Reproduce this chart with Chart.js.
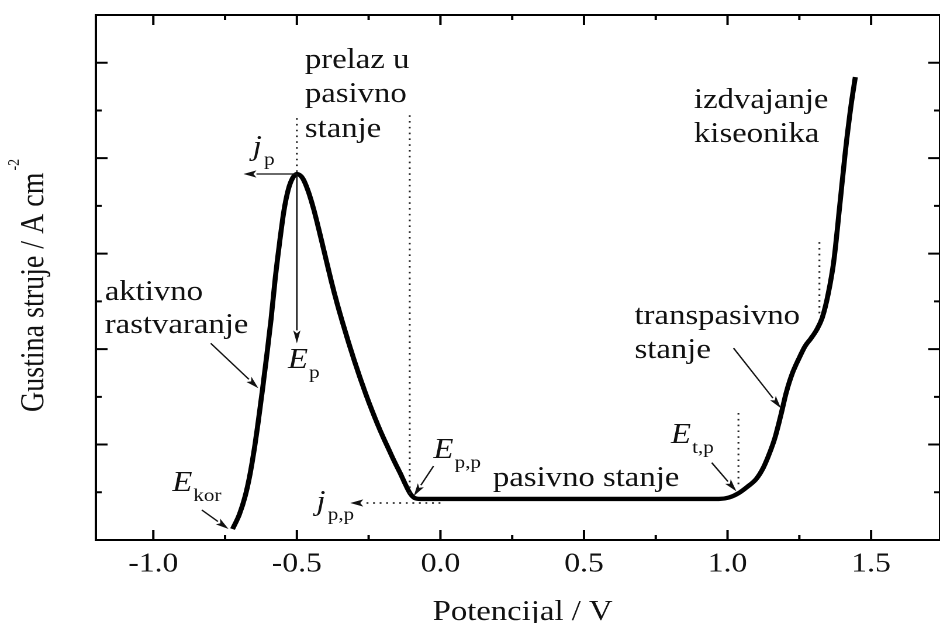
<!DOCTYPE html>
<html>
<head>
<meta charset="utf-8">
<script src="https://cdn.jsdelivr.net/npm/chart.js@4/dist/chart.umd.min.js"></script>
<style>
html,body{margin:0;padding:0;background:#fff;overflow:hidden;width:940px;height:623px;}
#wrap{width:804px;height:623px;transform:scaleX(1.169154);transform-origin:0 0;}
canvas{display:block;}
</style>
</head>
<body>
<div id="wrap"><canvas id="c" width="804" height="623"></canvas></div>
<script>
// ---------- data ----------
const potential = [-0.724,-0.700,-0.680,-0.665,-0.650,-0.635,-0.620,-0.605,-0.590,-0.575,-0.560,-0.545,-0.530,-0.515,-0.500,
  -0.480,-0.460,-0.440,-0.420,-0.400,-0.380,-0.360,-0.340,-0.320,-0.300,-0.280,-0.260,-0.240,-0.220,-0.200,-0.180,-0.160,-0.140,-0.120,-0.105,-0.090,-0.070,
  0.500,0.970,1.005,1.038,1.070,1.100,1.125,1.145,1.165,1.185,1.205,1.225,1.250,1.270,1.290,1.310,1.330,1.350,1.370,1.390,1.410,1.430,1.445];
const current = [0.115,0.270,0.460,0.660,0.920,1.230,1.570,1.930,2.310,2.750,3.120,3.450,3.670,3.790,3.834,
  3.790,3.650,3.450,3.210,2.960,2.710,2.480,2.270,2.070,1.880,1.700,1.530,1.370,1.220,1.080,0.950,0.820,0.700,0.570,0.485,0.440,0.430,
  0.430,0.430,0.445,0.490,0.560,0.640,0.760,0.900,1.070,1.300,1.550,1.740,1.910,2.030,2.110,2.200,2.330,2.570,2.920,3.480,4.060,4.550,4.850];

const xTickValues = [-1, -0.5, 0, 0.5, 1, 1.5];
const xTickLabels = ['-1.0', '-0.5', '0.0', '0.5', '1.0', '1.5'];
const xMinorValues = [-0.75, -0.25, 0.25, 0.75, 1.25];
const yMajorValues = [1, 2, 3, 4, 5];
const yMinorValues = [0.5, 1.5, 2.5, 3.5, 4.5];
const xTitle = 'Potencijal / V';
const yTitle = 'Gustina struje / A cm';
const yTitleSup = '-2';

// annotation texts (positions in data units: V, j)
const labelTexts = ['prelaz u', 'pasivno', 'stanje', 'aktivno', 'rastvaranje', 'pasivno stanje', 'transpasivno', 'stanje', 'izdvajanje', 'kiseonika'];
const labelV = [-0.472, -0.472, -0.472, -1.169, -1.169, 0.183, 0.676, 0.676, 0.883, 0.883];
const labelJ = [4.945, 4.589, 4.222, 2.514, 2.169, 0.566, 2.263, 1.907, 4.526, 4.170];

const symMain = ['j', 'E', 'E', 'E', 'j', 'E'];
const symSub = ['p', 'p', 'kor', 'p,p', 'p,p', 't,p'];
const symV = [-0.654, -0.531, -0.934, -0.024, -0.432, 0.803];
const symJ = [4.034, 1.802, 0.513, 0.859, 0.314, 1.016];

// arrows: [fromV, fromJ, toV, toJ, dotted]
const arrowDefs = [
  [-0.500, 3.834, -0.686, 3.834, 0],
  [-0.500, 3.834, -0.500, 2.060, 0],
  [-0.831, 0.314, -0.738, 0.115, 0],
  [-0.800, 2.060, -0.634, 1.590, 0],
  [-0.024, 0.775, -0.093, 0.460, 0],
  [0.945, 0.810, 1.031, 0.510, 0],
  [1.021, 2.010, 1.186, 1.380, 0],
  [0.000, 0.388, -0.314, 0.388, 1]
];
// dotted vertical guides: [V, jTop, jBottom]
const guideDefs = [
  [-0.500, 4.420, 3.834],
  [-0.107, 4.450, 0.440],
  [1.038, 1.330, 0.555],
  [1.320, 3.120, 2.330]
];

// ---------- drawing ----------
const S = 940 / 804;            // horizontal stretch of the reference figure
const FONT = '"Liberation Serif", "Times New Roman", serif';
const INK = '#111';

const decorPlugin = {
  id: 'decor',
  afterDatasetsDraw(chart) {
    const {ctx, chartArea: a, scales: {x, y}} = chart;
    const X = v => x.getPixelForValue(v);
    const Y = v => y.getPixelForValue(v);
    ctx.save();
    ctx.setLineDash([]);
    ctx.strokeStyle = '#000';
    ctx.fillStyle = '#000';

    // frame
    ctx.lineWidth = 2;
    ctx.strokeRect(a.left, a.top, a.right - a.left, a.bottom - a.top);

    // ticks (inward, mirrored)
    ctx.lineWidth = 2;
    ctx.beginPath();
    const vt = (v, len) => {
      const px = X(v);
      ctx.moveTo(px, a.bottom); ctx.lineTo(px, a.bottom - len);
      ctx.moveTo(px, a.top); ctx.lineTo(px, a.top + len);
    };
    xTickValues.forEach(v => vt(v, 10));
    xMinorValues.forEach(v => vt(v, 5));
    const ht = (v, len) => {
      const py = Y(v);
      ctx.moveTo(a.left, py); ctx.lineTo(a.left + len, py);
      ctx.moveTo(a.right, py); ctx.lineTo(a.right - len, py);
    };
    yMajorValues.forEach(v => ht(v, 10));
    yMinorValues.forEach(v => ht(v, 5));
    ctx.stroke();

    // dotted guides
    ctx.strokeStyle = '#222';
    ctx.lineWidth = 1.6;
    ctx.setLineDash([1.6, 4.2]);
    guideDefs.forEach(g => {
      ctx.beginPath();
      ctx.moveTo(X(g[0]), Y(g[1]));
      ctx.lineTo(X(g[0]), Y(g[2]));
      ctx.stroke();
    });
    ctx.setLineDash([]);

    // arrows
    ctx.strokeStyle = '#111';
    ctx.fillStyle = '#111';
    arrowDefs.forEach(d => {
      const x0 = X(d[0]), y0 = Y(d[1]), x1 = X(d[2]), y1 = Y(d[3]);
      const ang = Math.atan2(y1 - y0, (x1 - x0) * S);
      const L = 13, W = 3.6;
      const bx = x1 * S - L * Math.cos(ang), by = y1 - L * Math.sin(ang);
      const nx = -Math.sin(ang) * W, ny = Math.cos(ang) * W;
      ctx.lineWidth = 1.3;
      if (d[4]) { ctx.setLineDash([1.6, 4]); ctx.lineWidth = 1.5; }
      ctx.beginPath();
      ctx.moveTo(x0, y0);
      ctx.lineTo(bx / S, by);
      ctx.stroke();
      ctx.setLineDash([]);
      ctx.beginPath();
      ctx.moveTo(x1, y1);
      ctx.lineTo((bx + nx) / S, by + ny);
      ctx.lineTo((x1 * S - (L - 3) * Math.cos(ang)) / S, y1 - (L - 3) * Math.sin(ang));
      ctx.lineTo((bx - nx) / S, by - ny);
      ctx.closePath();
      ctx.fill();
    });

    // texts
    ctx.fillStyle = INK;
    ctx.textAlign = 'left';
    ctx.textBaseline = 'alphabetic';
    ctx.font = '28px ' + FONT;
    labelTexts.forEach((t, i) => ctx.fillText(t, X(labelV[i]), Y(labelJ[i])));

    symMain.forEach((m, i) => {
      const px = X(symV[i]), py = Y(symJ[i]);
      ctx.font = 'italic 28px ' + FONT;
      ctx.fillText(m, px, py);
      const w = ctx.measureText(m).width + (m === 'j' ? 2 : 1);
      ctx.font = '18px ' + FONT;
      ctx.fillText(symSub[i], px + w, py + 10);
    });

    // axis titles
    ctx.font = '28px ' + FONT;
    ctx.textAlign = 'center';
    ctx.fillText(xTitle, (a.left + 365), 620);

    ctx.save();
    ctx.translate(36.8, 412);
    ctx.rotate(-Math.PI / 2);
    ctx.textAlign = 'left';
    ctx.font = '28px ' + FONT;
    ctx.fillText(yTitle, 0, 0);
    const tw = ctx.measureText(yTitle).width;
    ctx.font = '14px ' + FONT;
    ctx.fillText(yTitleSup, tw + 2, -21);
    ctx.restore();

    ctx.restore();
  }
};

new Chart(document.getElementById('c'), {
  type: 'line',
  data: {
    datasets: [{
      data: potential.map((v, i) => ({x: v, y: current[i]})),
      borderColor: '#000',
      borderWidth: 4.3,
      pointRadius: 0,
      fill: false,
      cubicInterpolationMode: 'monotone',
      borderJoinStyle: 'round'
    }]
  },
  options: {
    responsive: false,
    animation: false,
    devicePixelRatio: 2,
    layout: {padding: {left: 0, right: -7.3, top: 15, bottom: 0}},
    plugins: {legend: {display: false}, tooltip: {enabled: false}},
    scales: {
      x: {
        type: 'linear',
        min: -1.2,
        max: 1.74,
        grid: {display: false, drawTicks: false},
        border: {display: false},
        afterBuildTicks: s => { s.ticks = xTickValues.map(v => ({value: v})); },
        afterFit: s => { s.height = 83; },
        ticks: {
          autoSkip: false, maxRotation: 0, minRotation: 0,
          padding: 8,
          color: INK,
          font: {family: FONT, size: 27},
          callback: (value, index) => xTickLabels[index]
        }
      },
      y: {
        type: 'linear',
        min: 0,
        max: 5.5,
        grid: {display: false, drawTicks: false},
        border: {display: false},
        ticks: {display: false},
        afterFit: s => { s.width = 82; }
      }
    }
  },
  plugins: [decorPlugin]
});
</script>
</body>
</html>
